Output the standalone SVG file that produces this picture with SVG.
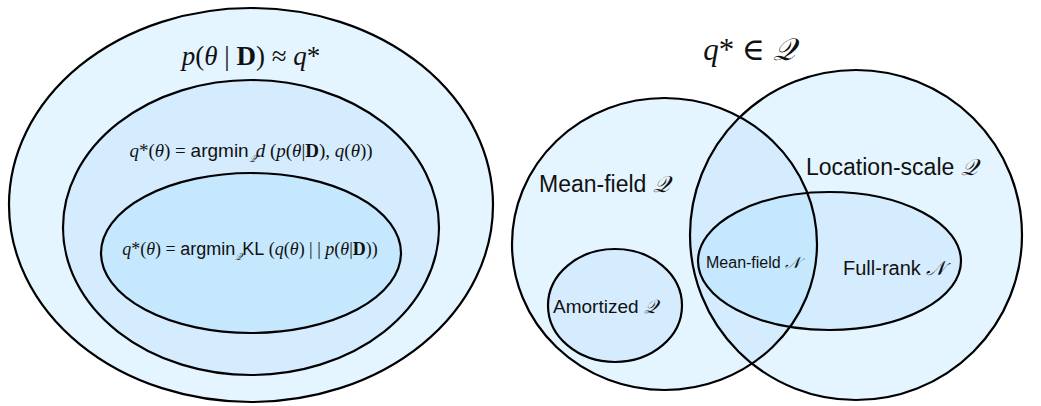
<svg xmlns="http://www.w3.org/2000/svg" width="1041" height="406" viewBox="0 0 1041 406">
  <style>
    .edge { stroke: #000; stroke-width: 2.2; }
    .l1 { fill: #e5f5ff; }
    .l2 { fill: #d5ecff; }
    .l3 { fill: #c5e8ff; }
    .none { fill: none; }
    .math { font-family: "Liberation Serif", "DejaVu Serif", serif; fill: #111; }
    .it { font-style: italic; }
    .bf { font-weight: bold; }
    .sans { font-family: "Liberation Sans", Arial, sans-serif; fill: #111; }
    .cal { font-family: "DejaVu Serif", "Liberation Serif", serif; font-style: italic; }
  </style>
  <defs>
    <clipPath id="clipMeanField">
      <ellipse cx="664.5" cy="244" rx="152.5" ry="146"/>
    </clipPath>
  </defs>

  <!-- Left: nested objectives -->
  <g id="posterior">
    <ellipse class="l1 edge" cx="251" cy="205" rx="242" ry="197"/>
    <text class="math" x="251" y="65" font-size="27" text-anchor="middle"><tspan class="it">p</tspan>(<tspan class="it">θ</tspan> | <tspan class="bf">D</tspan>) ≈ <tspan class="it">q</tspan>*</text>
  </g>
  <g id="divergence">
    <ellipse class="l2 edge" cx="251" cy="227.5" rx="188" ry="147.5"/>
    <text class="math" x="251" y="157" font-size="19" text-anchor="middle"><tspan class="it">q</tspan>*(<tspan class="it">θ</tspan>) = <tspan class="sans">argmin</tspan><tspan class="cal" font-size="10" dy="5">𝒬</tspan><tspan class="it" dy="-5">d</tspan> (<tspan class="it">p</tspan>(<tspan class="it">θ</tspan>|<tspan class="bf">D</tspan>), <tspan class="it">q</tspan>(<tspan class="it">θ</tspan>))</text>
  </g>
  <g id="kl">
    <ellipse class="l3 edge" cx="251" cy="253" rx="150" ry="80"/>
    <text class="math" x="250" y="255" font-size="18" text-anchor="middle"><tspan class="it">q</tspan>*(<tspan class="it">θ</tspan>) = <tspan class="sans">argmin</tspan><tspan class="cal" font-size="10" dy="5">𝒬</tspan><tspan class="sans" dy="-5">KL</tspan> (<tspan class="it">q</tspan>(<tspan class="it">θ</tspan>) | | <tspan class="it">p</tspan>(<tspan class="it">θ</tspan>|<tspan class="bf">D</tspan>))</text>
  </g>

  <!-- Right: variational families -->
  <text class="math" x="749" y="60" font-size="31" text-anchor="middle"><tspan class="it">q</tspan>* ∈ <tspan class="cal">𝒬</tspan></text>

  <g id="mean-field-q">
    <ellipse class="l1" cx="664.5" cy="244" rx="152.5" ry="146"/>
  </g>
  <g id="location-scale-q">
    <ellipse class="l1" cx="856" cy="235" rx="166" ry="165"/>
    <ellipse class="l2" cx="856" cy="235" rx="166" ry="165" clip-path="url(#clipMeanField)"/>
  </g>
  <g id="amortized-q">
    <ellipse class="l2 edge" cx="615" cy="305.5" rx="67" ry="56.5"/>
    <text class="sans" x="553" y="313" font-size="19">Amortized <tspan class="cal">𝒬</tspan></text>
  </g>
  <g id="gaussian">
    <ellipse class="l2" cx="829.5" cy="261" rx="131.5" ry="69"/>
    <ellipse class="l3" cx="829.5" cy="261" rx="131.5" ry="69" clip-path="url(#clipMeanField)"/>
  </g>

  <!-- outlines drawn above all fills -->
  <g id="outlines">
    <ellipse class="none edge" cx="664.5" cy="244" rx="152.5" ry="146"/>
    <ellipse class="none edge" cx="856" cy="235" rx="166" ry="165"/>
    <ellipse class="none edge" cx="829.5" cy="261" rx="131.5" ry="69"/>
  </g>

  <g id="labels">
    <text class="sans" x="539" y="192" font-size="23">Mean-field <tspan class="cal">𝒬</tspan></text>
    <text class="sans" x="806" y="175" font-size="23">Location-scale <tspan class="cal">𝒬</tspan></text>
    <text class="sans" x="706" y="268" font-size="16">Mean-field <tspan class="cal">𝒩</tspan></text>
    <text class="sans" x="843" y="275" font-size="20">Full-rank <tspan class="cal">𝒩</tspan></text>
  </g>
</svg>
